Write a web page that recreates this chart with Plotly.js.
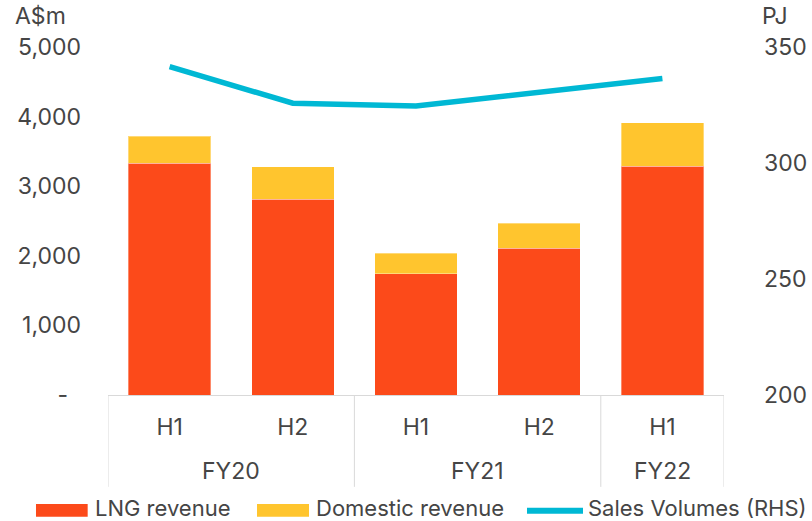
<!DOCTYPE html>
<html>
<head>
<meta charset="utf-8">
<script src="https://cdn.plot.ly/plotly-3.0.1.min.js"></script>
<style>html,body{margin:0;padding:0;background:#fff;}#chart{width:812px;height:521px;}</style>
</head>
<body>
<div id="chart"></div>
<script>
// ---- data ----
const years = ['FY20','FY20','FY21','FY21','FY22'];
const halves = ['H1','H2','H1','H2','H1'];
const lngRevenue = [3330, 2810, 1740, 2110, 3290];
const domesticRevenue = [390, 470, 300, 360, 620];
const salesVolumes = [341.5, 325.8, 324.6, 330.4, 336.4];
const leftTickVals = [0, 1000, 2000, 3000, 4000, 5000];
const leftTickText = ['-\u00a0\u00a0', '1,000', '2,000', '3,000', '4,000', '5,000'];
const rightTickVals = [200, 250, 300, 350];
const seriesNames = ['LNG revenue', 'Domestic revenue', 'Sales Volumes (RHS)'];

// ---- styling ----
const FONT = 'Inter, "Open Sans", sans-serif';
const TXT = '#454545';
const COLORS = ['#FC4A1A', '#FFC52E', '#00B8D4'];
const GRID = '#d9d9d9';

const categories = years.map((y, i) => y + ' ' + halves[i]);

// group spans for the two-level axis
const groups = [];
years.forEach((y, i) => {
  const last = groups[groups.length - 1];
  if (last && last.name === y) last.end = i; else groups.push({name: y, start: i, end: i});
});

const traces = [
  {type:'bar', name:seriesNames[0], x:categories, y:lngRevenue,
   marker:{color:COLORS[0], line:{color:'rgba(255,255,255,0.35)', width:1}}, yaxis:'y'},
  {type:'bar', name:seriesNames[1], x:categories, y:domesticRevenue,
   marker:{color:COLORS[1], line:{color:'rgba(255,255,255,0.35)', width:1}}, yaxis:'y'},
  {type:'scatter', mode:'lines', name:seriesNames[2], x:categories, y:salesVolumes,
   line:{color:COLORS[2], width:5.5}, yaxis:'y2'}
];

const shapes = [];
const annotations = [];
const DIV_BOTTOM = -0.264;
// dividers
const edges = [groups[0].start - 0.5].concat(groups.map(g => g.end + 0.5));
edges.forEach(e => shapes.push({type:'line', xref:'x', yref:'paper', x0:e, x1:e, y0:0, y1:DIV_BOTTOM,
  line:{color:GRID, width:1}}));
// group labels
groups.forEach(g => annotations.push({text:g.name, xref:'x', yref:'paper', x:(g.start + g.end) / 2,
  y:-0.217, xanchor:'center', yanchor:'middle', showarrow:false, font:{size:23, color:TXT}}));

// legend (drawn manually to match swatch sizes)
const LY = -0.3247;
shapes.push({type:'rect', xref:'paper', yref:'paper', x0:-0.1169, x1:-0.0330, y0:-0.3132, y1:-0.3497,
  fillcolor:COLORS[0], line:{width:0}});
shapes.push({type:'rect', xref:'paper', yref:'paper', x0:0.2419, x1:0.3263, y0:-0.3132, y1:-0.3497,
  fillcolor:COLORS[1], line:{width:0}});
shapes.push({type:'line', xref:'paper', yref:'paper', x0:0.6802, x1:0.7711, y0:-0.3325, y1:-0.3325,
  line:{color:COLORS[2], width:6}});
[[-0.0245, seriesNames[0]], [0.3345, seriesNames[1]], [0.7760, seriesNames[2]]].forEach(([x, t]) =>
  annotations.push({text:t, xref:'paper', yref:'paper', x:x, y:LY, xanchor:'left', yanchor:'middle',
    height:22, valign:'middle', showarrow:false, font:{size:22, color:TXT}}));

// axis unit labels
annotations.push({text:'A$m', xref:'paper', yref:'paper', x:-0.110, y:1.0, yshift:31, xanchor:'center',
  yanchor:'middle', showarrow:false, font:{size:23, color:TXT}});
annotations.push({text:'PJ', xref:'paper', yref:'paper', x:1.0828, y:1.0, yshift:31, xanchor:'center',
  yanchor:'middle', showarrow:false, font:{size:23, color:TXT}});

const layout = {
  width:812, height:521,
  margin:{l:108, r:88, t:47, b:126},
  paper_bgcolor:'#fff', plot_bgcolor:'#fff',
  font:{family:FONT, color:TXT, size:23},
  barmode:'stack', bargap:0.33,
  showlegend:false,
  xaxis:{type:'category', tickvals:categories, ticktext:halves, automargin:false,
         showline:true, linecolor:GRID, linewidth:1, showgrid:false, zeroline:false, ticks:'',
         ticklabelstandoff:11, tickfont:{size:23, color:TXT}, range:[-0.5, categories.length - 0.5]},
  yaxis:{range:[0,5000], tickvals:leftTickVals, ticktext:leftTickText, automargin:false,
         showgrid:false, zeroline:false, showline:false, ticks:'',
         ticklabelstandoff:26, tickfont:{size:23, color:TXT}},
  yaxis2:{range:[200,350], tickvals:rightTickVals, overlaying:'y', side:'right', automargin:false,
          showgrid:false, zeroline:false, showline:false, ticks:'',
          ticklabelstandoff:39, tickfont:{size:23, color:TXT}},
  shapes:shapes,
  annotations:annotations
};

Plotly.newPlot('chart', traces, layout, {displayModeBar:false, staticPlot:true});
</script>
</body>
</html>
